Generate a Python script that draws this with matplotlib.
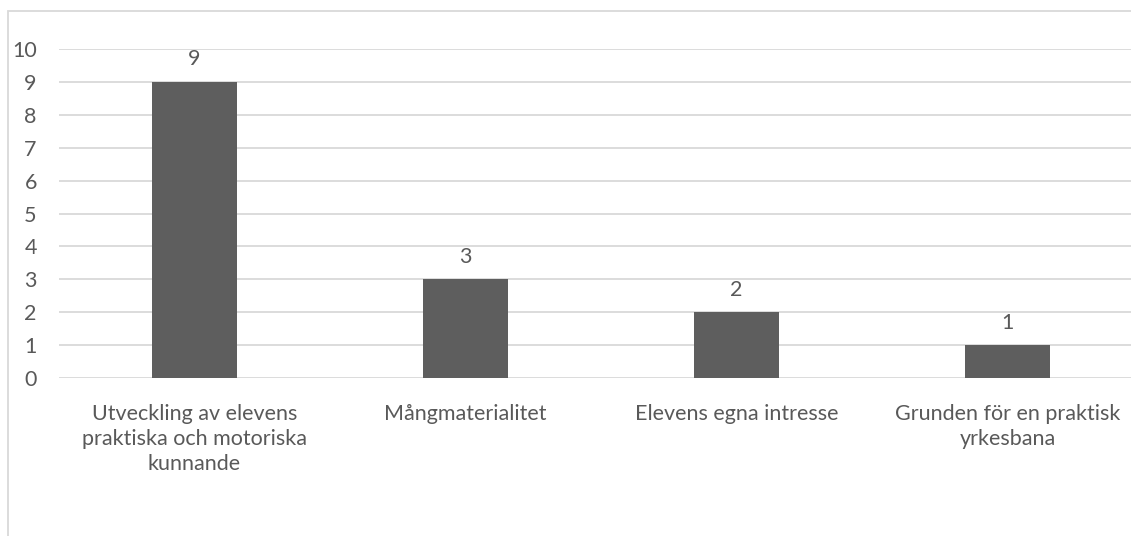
import matplotlib
matplotlib.use("Agg")
import matplotlib.pyplot as plt
from matplotlib.patches import Rectangle

categories = ["Utveckling av elevens\npraktiska och motoriska\nkunnande",
              "Mångmaterialitet",
              "Elevens egna intresse",
              "Grunden för en praktisk\nyrkesbana"]
values = [9, 3, 2, 1]
yticks = list(range(0, 11))

plt.rcParams['font.family'] = ['Lato', 'DejaVu Sans']
W, H = 1131, 536
FS = 15.5
fig = plt.figure(figsize=(W/100, H/100), dpi=100)
fig.patches.append(Rectangle((8/W, -0.1), 1.2, 1 - 11/H + 0.1, transform=fig.transFigure,
                             fill=False, edgecolor='#D9D9D9', linewidth=1.3))

ax = fig.add_axes([59/W, (H-378)/H, 1084/W, (378-49)/H])
x = list(range(len(values)))
ax.bar(x, values, width=85/271, color='#5E5E5E', zorder=3)
ax.set_xlim(-0.5, len(values) - 0.5)
ax.set_ylim(0, 10)
ax.set_yticks(yticks)
ax.set_yticklabels([str(t) for t in yticks])
ax.set_xticks(x)
ax.set_xticklabels(categories, linespacing=1.33)
for s in ax.spines.values():
    s.set_visible(False)
ax.grid(axis='y', color='#D9D9D9', linewidth=1.3, zorder=0)
ax.tick_params(axis='both', length=0, labelsize=FS, labelcolor='#595959')
ax.tick_params(axis='y', pad=16)
ax.tick_params(axis='x', pad=18.5)
for xi, v in zip(x, values):
    ax.annotate(str(v), (xi, v), xytext=(0, 9), textcoords='offset points',
                ha='center', va='bottom', fontsize=FS, color='#595959')

fig.savefig("out.png", dpi=100)
